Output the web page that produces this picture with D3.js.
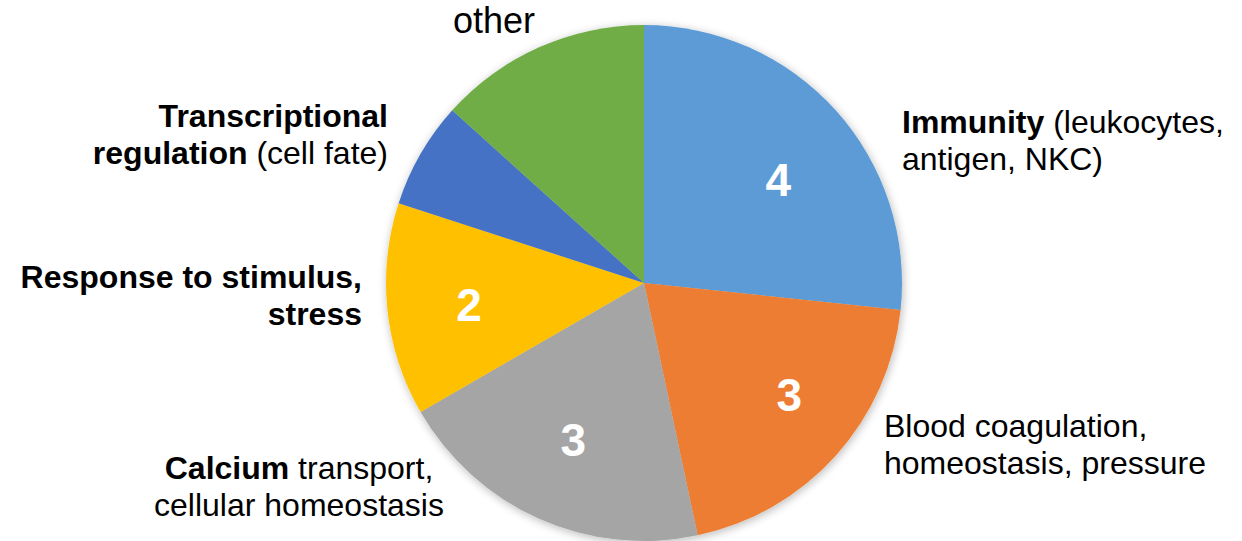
<!DOCTYPE html>
<html>
<head>
<meta charset="utf-8">
<script src="https://cdn.jsdelivr.net/npm/d3@7/dist/d3.min.js"></script>
<style>
  html, body { margin: 0; padding: 0; background: #ffffff; }
  svg { display: block; }
</style>
</head>
<body>
<svg id="chart" width="1242" height="541"></svg>
<script>
// Functional categories and the number of genes in each
const categories = ["Immunity", "Blood coagulation", "Calcium", "Response to stimulus", "Transcriptional regulation", "other"];
const counts = [4, 3, 3, 2, 1, 2];
const showCount = [true, true, true, true, false, false];
const sliceColors = ["#5B9BD5", "#ED7D31", "#A5A5A5", "#FFC000", "#4472C4", "#70AD47"];

// Category captions: each line is a list of [text, bold] runs
const captionLines = [
  [[["Immunity", true], [" (leukocytes,", false]], [["antigen, NKC)", false]]],
  [[["Blood coagulation,", false]], [["homeostasis, pressure", false]]],
  [[["Calcium", true], [" transport,", false]], [["cellular homeostasis", false]]],
  [[["Response to stimulus,", true]], [["stress", true]]],
  [[["Transcriptional", true]], [["regulation", true], [" (cell fate)", false]]],
  [[["other", false]]]
];

// Layout
const width = 1242, height = 541;
const cx = 644, cy = 283, radius = 258;
const fontFamily = "'Liberation Sans', Arial, Helvetica, sans-serif";
// caption anchor offsets from the pie centre (first baseline), alignment and size
const captionLayout = [
  { dx: 258,  dy: -150, anchor: "start",  size: 32 },
  { dx: 240,  dy: 154,  anchor: "start",  size: 32 },
  { dx: -345, dy: 196,  anchor: "middle", size: 32 },
  { dx: -282, dy: 5,    anchor: "end",    size: 32 },
  { dx: -256, dy: -156, anchor: "end",    size: 32 },
  { dx: -150, dy: -250, anchor: "middle", size: 36 }
];
const lineHeight = 37;
// small nudges of the in-slice value labels away from the plain centroid
const valueNudge = [[5, 13], [16, -5], [0, -3], [-2, 3], [0, 0], [0, 0]];

const svg = d3.select("#chart");

// soft outer shadow around the pie
const defs = svg.append("defs");
const shadow = defs.append("filter")
  .attr("id", "pieShadow")
  .attr("x", "-20%").attr("y", "-20%")
  .attr("width", "140%").attr("height", "140%");
shadow.append("feGaussianBlur").attr("in", "SourceAlpha").attr("stdDeviation", 5).attr("result", "blur");
shadow.append("feOffset").attr("in", "blur").attr("dx", 1).attr("dy", 2).attr("result", "off");
shadow.append("feComponentTransfer").attr("in", "off").attr("result", "soft")
  .append("feFuncA").attr("type", "linear").attr("slope", 0.28);
const merge = shadow.append("feMerge");
merge.append("feMergeNode").attr("in", "soft");
merge.append("feMergeNode").attr("in", "SourceGraphic");

const data = categories.map((c, i) => ({
  category: c, count: counts[i], show: showCount[i], color: sliceColors[i], nudge: valueNudge[i]
}));

const pie = d3.pie()
  .sort(null)
  .value(d => d.count)
  .startAngle(0)
  .endAngle(2 * Math.PI);

const arcs = pie(data);

const arc = d3.arc().innerRadius(0).outerRadius(radius);
const labelArc = d3.arc().innerRadius(174).outerRadius(174);

const g = svg.append("g").attr("transform", `translate(${cx},${cy})`);

g.append("g")
  .attr("filter", "url(#pieShadow)")
  .selectAll("path")
  .data(arcs)
  .join("path")
  .attr("d", arc)
  .attr("fill", d => d.data.color);

// value labels inside the slices
g.selectAll("text.value")
  .data(arcs.filter(d => d.data.show))
  .join("text")
  .attr("class", "value")
  .attr("transform", d => {
    const [x, y] = labelArc.centroid(d);
    return `translate(${x + d.data.nudge[0]},${y + d.data.nudge[1]})`;
  })
  .attr("text-anchor", "middle")
  .attr("dy", "0.36em")
  .attr("font-family", fontFamily)
  .attr("font-weight", "bold")
  .attr("font-size", 46)
  .attr("fill", "#ffffff")
  .text(d => d.data.count);

// category captions around the pie
captionLines.forEach((lines, i) => {
  const lay = captionLayout[i];
  const t = g.append("text")
    .attr("x", lay.dx)
    .attr("y", lay.dy)
    .attr("text-anchor", lay.anchor)
    .attr("font-family", fontFamily)
    .attr("font-size", lay.size)
    .attr("fill", "#000000");
  lines.forEach((runs, li) => {
    runs.forEach((run, ri) => {
      const ts = t.append("tspan")
        .attr("font-weight", run[1] ? "bold" : "normal")
        .style("white-space", "pre")
        .text(run[0]);
      if (ri === 0) {
        ts.attr("x", lay.dx).attr("y", lay.dy + li * lineHeight);
      }
    });
  });
});
</script>
</body>
</html>
